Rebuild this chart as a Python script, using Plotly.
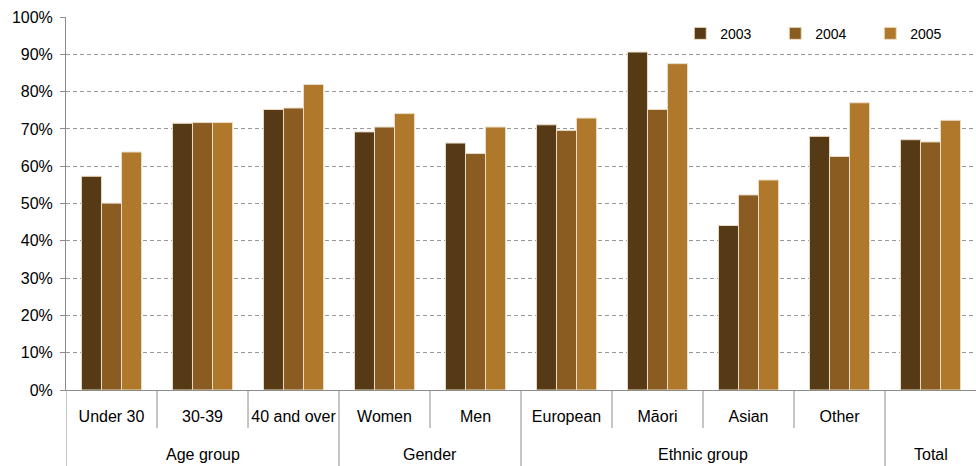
import plotly.graph_objects as go

groups = ["Age group", "Age group", "Age group", "Gender", "Gender",
          "Ethnic group", "Ethnic group", "Ethnic group", "Ethnic group", "Total"]
categories = ["Under 30", "30-39", "40 and over", "Women", "Men",
              "European", "Māori", "Asian", "Other", " "]
years = ["2003", "2004", "2005"]
v2003 = [0.573, 0.715, 0.752, 0.692, 0.662, 0.711, 0.906, 0.441, 0.680, 0.671]
v2004 = [0.501, 0.717, 0.756, 0.705, 0.634, 0.696, 0.752, 0.523, 0.626, 0.665]
v2005 = [0.638, 0.717, 0.819, 0.741, 0.705, 0.729, 0.875, 0.563, 0.770, 0.723]
colors = ["#563A15", "#8A5C22", "#AF782A"]

AX = "#8C8C8C"
fig = go.Figure()
for name, vals, col in zip(years, [v2003, v2004, v2005], colors):
    fig.add_trace(go.Bar(
        x=categories, y=vals, name=name,
        marker=dict(color=col, line=dict(color="#EADCC6", width=1)),
    ))

# group spans derived from the group list
spans = []
start = 0
for i in range(1, len(groups) + 1):
    if i == len(groups) or groups[i] != groups[start]:
        spans.append((groups[start], start, i - 1))
        start = i

plot_h = 466 - 17 - 76
shapes = []
annotations = []
for gname, s, e in spans:
    annotations.append(dict(x=(s + e) / 2, y=-(455 - 390) / plot_h, xref="x", yref="paper",
                            text=gname, showarrow=False, xanchor="center", yanchor="middle",
                            font=dict(size=16)))
    # divider at the group's left boundary, full depth
    shapes.append(dict(type="line", xref="x", yref="paper", x0=s - 0.5, x1=s - 0.5,
                       y0=0, y1=-76 / plot_h, line=dict(color=AX, width=1)))
    for k in range(s + 1, e + 1):
        shapes.append(dict(type="line", xref="x", yref="paper", x0=k - 0.5, x1=k - 0.5,
                           y0=0, y1=-38 / plot_h, line=dict(color=AX, width=1)))

fig.update_layout(
    width=976, height=466,
    margin=dict(l=66, r=0, t=17, b=76, autoexpand=False),
    plot_bgcolor="white", paper_bgcolor="white",
    barmode="group", bargap=0.34, bargroupgap=0,
    font=dict(family="Liberation Sans, Arial, sans-serif", size=16, color="#000"),
    legend=dict(orientation="h", x=0.675, y=0.998, xanchor="left", yanchor="top",
                entrywidth=50, entrywidthmode="pixels", font=dict(size=14),
                bgcolor="rgba(0,0,0,0)", itemwidth=30),
    yaxis=dict(range=[0, 1.0], dtick=0.1, tickformat=".0%",
               showgrid=True, gridcolor="#999999", griddash="4px,3px", gridwidth=1.2,
               showline=True, linecolor=AX, linewidth=1,
               ticks="outside", ticklen=5, tickcolor=AX, ticklabelstandoff=4,
               zeroline=False, tickfont=dict(size=16), automargin=False),
    xaxis=dict(type="category", range=[-0.5, len(categories) - 0.5],
               showline=True, linecolor=AX, linewidth=1,
               ticks="", ticklabelstandoff=12,
               tickangle=0, automargin=False, tickfont=dict(size=16)),
    shapes=shapes, annotations=annotations,
)

fig.write_html("out.html")
